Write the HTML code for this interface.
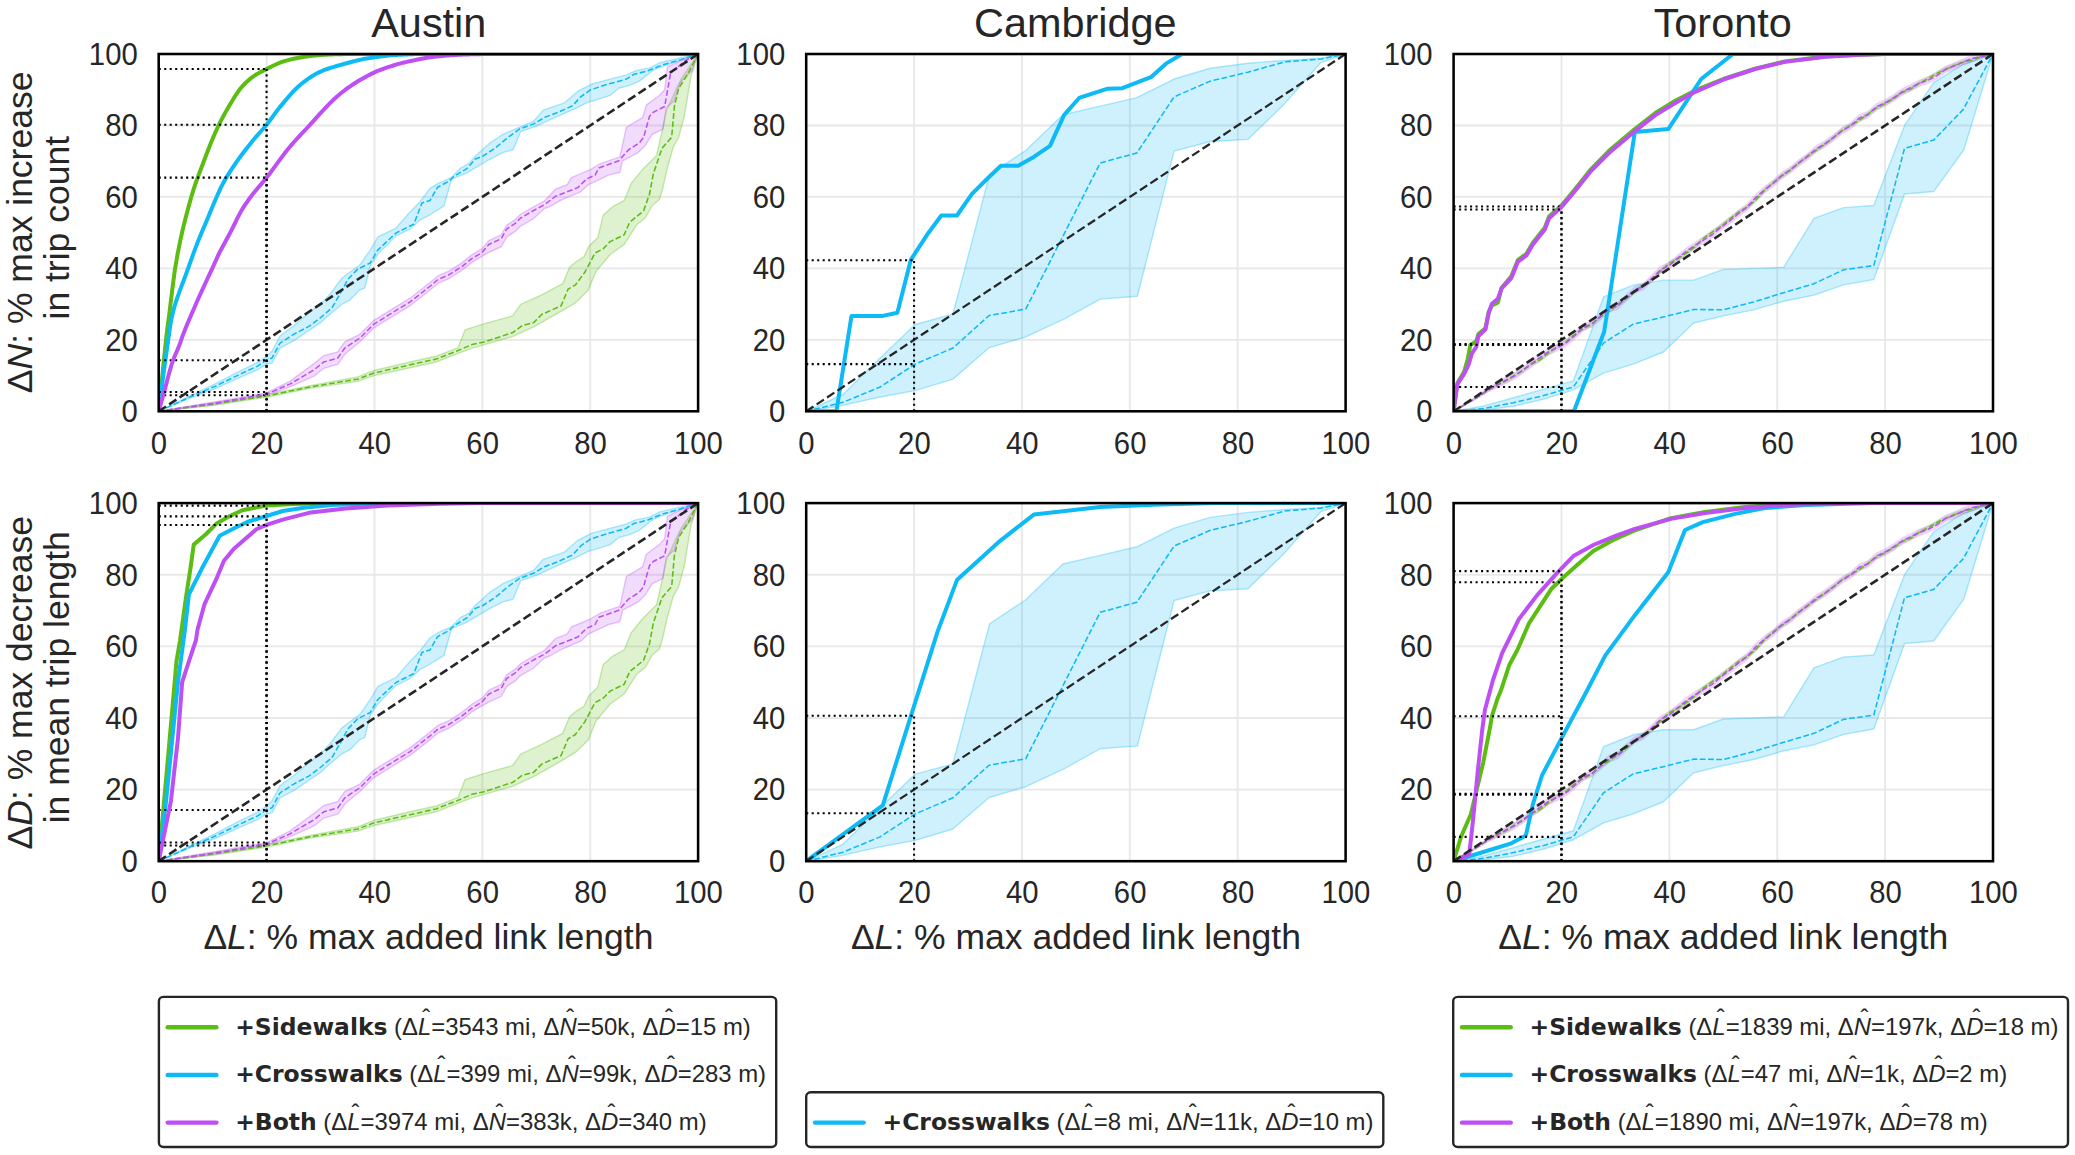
<!DOCTYPE html>
<html><head><meta charset="utf-8"><title>Network improvement curves</title>
<style>html,body{margin:0;padding:0;background:#fff}svg{display:block}text{font-family:"Liberation Sans",sans-serif;fill:#262626}.tk{font-size:30.5px}.lb{font-size:35.5px}.tt{font-size:41.4px}.lg{font-size:23.9px;font-kerning:none}.b{font-family:"DejaVu Sans",sans-serif;font-weight:bold;font-size:23.45px}.i{font-style:italic}</style></head><body>
<svg width="2075" height="1155" viewBox="0 0 2075 1155">
<rect width="2075" height="1155" fill="#fff"/>
<defs>
<clipPath id="c00"><rect x="158.7" y="54" width="539.4" height="357.3"/></clipPath>
<clipPath id="c01"><rect x="158.7" y="503.1" width="539.4" height="358.1"/></clipPath>
<clipPath id="c10"><rect x="806.2" y="54" width="539.4" height="357.3"/></clipPath>
<clipPath id="c11"><rect x="806.2" y="503.1" width="539.4" height="358.1"/></clipPath>
<clipPath id="c20"><rect x="1453.6" y="54" width="539.4" height="357.3"/></clipPath>
<clipPath id="c21"><rect x="1453.6" y="503.1" width="539.4" height="358.1"/></clipPath>
</defs>
<g clip-path="url(#c00)">
<line x1="266.58" y1="54" x2="266.58" y2="411.3" stroke="#e8e8e8" stroke-width="1.85"/>
<line x1="158.7" y1="339.84" x2="698.1" y2="339.84" stroke="#e8e8e8" stroke-width="1.85"/>
<line x1="374.46" y1="54" x2="374.46" y2="411.3" stroke="#e8e8e8" stroke-width="1.85"/>
<line x1="158.7" y1="268.38" x2="698.1" y2="268.38" stroke="#e8e8e8" stroke-width="1.85"/>
<line x1="482.34" y1="54" x2="482.34" y2="411.3" stroke="#e8e8e8" stroke-width="1.85"/>
<line x1="158.7" y1="196.92" x2="698.1" y2="196.92" stroke="#e8e8e8" stroke-width="1.85"/>
<line x1="590.22" y1="54" x2="590.22" y2="411.3" stroke="#e8e8e8" stroke-width="1.85"/>
<line x1="158.7" y1="125.46" x2="698.1" y2="125.46" stroke="#e8e8e8" stroke-width="1.85"/>
<polygon points="158.7,411.3 212.64,402.87 266.58,394.65 309.73,385.72 357.74,376.95 373.92,370.49 410.06,361.99 435.95,356.28 458.07,347.7 465.08,329.84 482.88,324.12 512.55,315.9 520.64,304.47 541.67,294.82 562.71,283.74 569.72,266.95 576.73,261.23 583.75,256.95 589.14,245.87 597.77,237.65 603.17,215.14 612.87,206.57 624.2,200.49 631.21,183.34 642.54,169.41 656.57,155.47 661.96,131.53 666.28,110.81 675.98,89.73 681.38,78.65 698.1,54 698.1,54 691.09,75.8 684.08,117.6 678.68,137.25 673.29,146.9 667.35,167.98 661.96,191.56 659.26,199.78 652.25,205.5 645.24,218 636.61,224.79 624.2,244.44 610.18,254.45 596.15,271.24 588.06,290.53 575.12,303.04 555.7,314.47 533.58,326.98 512.55,336.62 472.09,348.06 458.07,353.42 435.95,361.99 410.06,367.71 373.92,375.65 357.74,381.33 309.73,388.29 266.58,397.22 212.64,405.44 158.7,411.3" fill="#5bbd12" fill-opacity="0.2" stroke="#5bbd12" stroke-opacity="0.32" stroke-width="1.4" stroke-linejoin="round"/>
<polygon points="158.7,411.3 189.99,395.94 215.88,383.43 240.15,370.93 257.95,362.35 266.58,356.28 271.97,351.27 280.06,335.91 294.09,325.55 309.73,311.97 320.52,304.11 329.96,294.11 342.1,278.03 350.19,271.95 359.9,264.81 370.14,250.16 377.97,236.94 396.04,228.01 410.06,211.93 419.77,201.92 430.02,188.34 438.11,183.34 451.05,177.63 460.76,167.98 468.85,163.69 475.87,155.47 489.89,142.97 502.84,134.39 516.86,128.32 533.58,121.17 543.29,110.1 564.33,102.95 577.81,91.16 591.84,84.01 611.8,78.65 625.82,75.08 635.53,70.79 649.55,67.93 660.34,62.58 678.68,58.29 698.1,54 698.1,54 667.35,64.72 653.33,70.08 639.31,81.15 629.6,85.44 618.81,88.3 610.18,95.45 597.77,99.38 588.06,102.24 576.73,107.95 553,118.31 536.28,126.17 520.64,131.53 513.09,149.76 502.84,152.61 488.81,159.76 477.49,166.55 465.08,173.7 451.59,179.06 444.04,205.85 430.02,214.78 419.77,220.14 410.06,229.08 396.04,235.87 377.97,254.09 370.14,265.88 364.75,288.03 359.9,289.82 350.19,299.82 342.1,304.11 329.96,314.11 320.52,322.69 309.73,329.84 294.09,340.55 280.06,348.06 271.97,363.06 266.58,364.14 257.95,369.5 240.15,377.36 215.88,388.43 189.99,398.08 158.7,411.3" fill="#0dbaf5" fill-opacity="0.2" stroke="#0dbaf5" stroke-opacity="0.32" stroke-width="1.4" stroke-linejoin="round"/>
<polygon points="158.7,411.3 212.64,402.13 266.58,392.84 289.77,381.33 314.05,363.6 323.76,355.74 337.78,351.81 344.79,341.81 359.9,334.3 373.92,320.37 390.1,310.36 410.06,298.21 430.02,282.49 438.11,275.7 448.36,271.42 461.84,262.84 472.09,254.62 481.8,248.91 488.81,240.69 501.22,234.97 506.61,225.33 515.24,219.61 520.64,214.25 533.58,206.75 544.37,201.03 555.7,189.06 567.03,184.77 571.34,177.63 590.76,169.41 600.47,163.69 619.89,156.9 626.36,127.25 642.54,117.6 646.32,105.09 659.26,95.45 664.66,89.73 667.35,67.22 681.38,60.43 698.1,54 698.1,54 694.86,61.86 692.71,70.08 680.3,82.58 674.37,100.81 666.28,107.95 663.04,129.03 652.25,134.39 645.24,145.47 638.23,152.61 622.58,160.83 619.89,172.27 608.56,175.12 600.47,179.06 588.06,184.77 581.05,191.56 561.09,200.14 549.76,206.57 544.37,208.53 533.58,218.54 520.64,226.04 515.24,231.4 506.61,237.12 501.22,246.76 488.81,252.48 481.8,256.41 472.09,262.13 461.84,270.35 448.36,278.92 438.11,283.21 430.02,290 410.06,305.72 390.1,317.87 373.92,327.87 359.9,341.81 344.79,354.31 337.78,364.32 323.76,368.25 314.05,376.11 289.77,386.96 266.58,395.46 212.64,404.75 158.7,411.3" fill="#be4ff5" fill-opacity="0.2" stroke="#be4ff5" stroke-opacity="0.32" stroke-width="1.4" stroke-linejoin="round"/>
<polyline points="158.7,411.3 161.4,385.14 161.94,379.86 164.09,357.95 165.98,339.84 166.79,333.02 169.49,312.23 170.03,308.04 172.18,290.28 174.88,269.81 177.58,254.03 180.28,240.53 180.82,238.01 182.97,228.52 185.67,217.75 187.29,211.57 188.37,207.49 191.06,197.67 193.22,190.49 193.76,188.82 196.46,180.94 199.15,173.64 201.85,166.55 202.93,163.69 204.55,159.38 207.25,152.23 209.94,145.28 212.64,138.68 215.34,132.46 218.03,126.61 219.11,124.39 220.73,121.17 223.43,116.03 226.12,111.15 228.82,106.52 231.52,101.99 234.22,97.53 236.91,93.32 239.61,89.53 241.5,87.23 242.31,86.32 245,83.49 247.7,80.92 250.4,78.61 253.09,76.55 254.17,75.8 255.79,74.74 258.49,73.14 261.19,71.69 263.88,70.34 266.58,69.01 269.28,67.66 271.97,66.31 274.67,64.99 277.37,63.76 280.06,62.64 282.76,61.67 283.3,61.5 285.46,60.86 288.16,60.11 290.85,59.43 293.55,58.81 296.25,58.25 298.94,57.76 300.02,57.57 301.64,57.31 304.34,56.87 307.03,56.46 309.73,56.07 312.43,55.71 315.13,55.4 317.82,55.15 320.52,54.95 321.6,54.89 323.22,54.82 325.91,54.69 328.61,54.57 331.31,54.47 334,54.37 336.7,54.27 339.4,54.2 342.1,54.13 344.79,54.07 347.49,54.03 350.19,54.01 352.88,54 355.58,54 358.28,54 360.97,54 363.67,54 366.37,54 369.07,54 371.76,54 374.46,54 377.16,54 379.85,54 382.55,54 385.25,54 387.94,54 390.64,54 393.34,54 396.04,54 398.73,54 401.43,54 404.13,54 406.82,54 409.52,54 412.22,54 414.91,54 417.61,54 420.31,54 423.01,54 425.7,54 428.4,54 431.1,54 433.79,54 436.49,54 439.19,54 441.88,54 444.58,54 447.28,54 449.98,54 452.67,54 455.37,54 458.07,54 460.76,54 463.46,54 466.16,54 468.85,54 471.55,54 474.25,54 476.95,54 479.64,54 482.34,54 485.04,54 487.73,54 490.43,54 493.13,54 495.82,54 498.52,54 501.22,54 503.92,54 506.61,54 509.31,54 512.01,54 514.7,54 517.4,54 520.1,54 522.79,54 525.49,54 528.19,54 530.89,54 533.58,54 536.28,54 538.98,54 541.67,54 544.37,54 547.07,54 549.76,54 552.46,54 555.16,54 557.86,54 560.55,54 563.25,54 565.95,54 568.64,54 571.34,54 574.04,54 576.73,54 579.43,54 582.13,54 584.83,54 587.52,54 590.22,54 592.92,54 595.61,54 598.31,54 601.01,54 603.7,54 606.4,54 609.1,54 611.8,54 614.49,54 617.19,54 619.89,54 622.58,54 625.28,54 627.98,54 630.67,54 633.37,54 636.07,54 638.77,54 641.46,54 644.16,54 646.86,54 649.55,54 652.25,54 654.95,54 657.64,54 660.34,54 663.04,54 665.74,54 668.43,54 671.13,54 673.83,54 676.52,54 679.22,54 681.92,54 684.61,54 687.31,54 690.01,54 692.71,54 695.4,54 698.1,54" fill="none" stroke="#5bbd12" stroke-width="4.0" stroke-linecap="round" stroke-linejoin="round"/>
<polyline points="158.7,411.3 212.64,404.15 266.58,395.94 309.73,387 357.74,379.14 373.92,373.07 410.06,364.85 435.95,359.13 458.07,350.56 472.09,344.48 482.88,342.34 512.55,332.69 522.26,325.55 533.58,322.69 541.67,314.47 561.09,305.9 568.1,289.1 575.12,285.17 584.83,272.31 595.07,253.02 603.17,248.73 610.18,241.58 624.2,234.79 629.6,222.29 643.62,210.85 649.55,194.06 653.33,173.7 661.96,148.33 671.67,137.25 674.37,106.52 678.68,88.3 688.39,72.94 698.1,54" fill="none" stroke="#5bbd12" stroke-width="1.55" stroke-dasharray="5.74 2.48" stroke-linecap="butt" stroke-linejoin="round"/>
<polyline points="158.7,69.01 266.58,69.01" fill="none" stroke="#000" stroke-width="2.07" stroke-dasharray="2.07 3.42" stroke-linecap="butt" stroke-linejoin="round"/>
<polyline points="158.7,395.22 266.58,395.22" fill="none" stroke="#000" stroke-width="2.07" stroke-dasharray="2.07 3.42" stroke-linecap="butt" stroke-linejoin="round"/>
<polyline points="266.58,411.3 266.58,69.01" fill="none" stroke="#000" stroke-width="2.07" stroke-dasharray="2.07 3.42" stroke-linecap="butt" stroke-linejoin="round"/>
<polyline points="158.7,411.3 161.4,389.97 163.28,375.57 164.09,369.53 166.79,349.93 167.87,342.34 169.49,330.72 171.11,320.55 172.18,315.4 174.34,306.97 174.88,305.1 177.58,296.87 179.2,292.32 180.28,289.36 182.97,282.31 184.05,279.46 185.67,275.08 188.37,267.7 188.64,266.95 191.06,260.11 193.22,254.09 193.76,252.62 196.46,245.4 198.08,241.23 199.15,238.52 201.85,232 202.93,229.43 204.55,225.68 206.17,221.93 207.25,219.37 209.94,212.85 212.64,206.31 214.8,201.21 215.34,199.95 218.03,193.74 220.19,189.06 220.73,187.95 223.43,182.68 225.05,179.77 226.12,177.93 228.82,173.51 231.52,169.31 234.22,165.3 236.91,161.42 239.61,157.65 240.15,156.9 242.31,153.97 245,150.42 247.7,146.99 250.4,143.64 253.09,140.34 254.17,139.04 255.79,137.12 258.49,134.04 261.19,131.02 263.88,127.96 266.58,124.75 269.28,121.28 271.97,117.63 274.67,113.91 277.37,110.29 280.06,106.88 282.76,103.62 285.46,100.38 288.16,97.2 290.85,94.13 293.55,91.2 296.25,88.48 298.94,86 300.02,85.09 301.64,83.77 304.34,81.64 307.03,79.62 309.73,77.72 312.43,75.96 315.13,74.34 317.82,72.9 319.98,71.87 320.52,71.62 323.22,70.49 325.91,69.45 328.61,68.5 331.31,67.62 334,66.79 336.7,66 339.4,65.23 339.94,65.08 342.1,64.47 344.79,63.71 347.49,62.97 350.19,62.24 352.88,61.54 355.58,60.86 358.28,60.22 360.97,59.62 363.67,59.06 366.37,58.55 369.07,58.1 370.14,57.93 371.76,57.69 374.46,57.3 377.16,56.93 379.85,56.57 382.55,56.23 385.25,55.92 387.94,55.62 390.64,55.36 393.34,55.13 396.04,54.93 398.73,54.77 399.81,54.71 401.43,54.64 404.13,54.52 406.82,54.4 409.52,54.29 412.22,54.19 414.91,54.11 417.61,54.05 420.31,54.01 423.01,54 425.7,54 428.4,54 431.1,54 433.79,54 436.49,54 439.19,54 441.88,54 444.58,54 447.28,54 449.98,54 452.67,54 455.37,54 458.07,54 460.76,54 463.46,54 466.16,54 468.85,54 471.55,54 474.25,54 476.95,54 479.64,54 482.34,54 485.04,54 487.73,54 490.43,54 493.13,54 495.82,54 498.52,54 501.22,54 503.92,54 506.61,54 509.31,54 512.01,54 514.7,54 517.4,54 520.1,54 522.79,54 525.49,54 528.19,54 530.89,54 533.58,54 536.28,54 538.98,54 541.67,54 544.37,54 547.07,54 549.76,54 552.46,54 555.16,54 557.86,54 560.55,54 563.25,54 565.95,54 568.64,54 571.34,54 574.04,54 576.73,54 579.43,54 582.13,54 584.83,54 587.52,54 590.22,54 592.92,54 595.61,54 598.31,54 601.01,54 603.7,54 606.4,54 609.1,54 611.8,54 614.49,54 617.19,54 619.89,54 622.58,54 625.28,54 627.98,54 630.67,54 633.37,54 636.07,54 638.77,54 641.46,54 644.16,54 646.86,54 649.55,54 652.25,54 654.95,54 657.64,54 660.34,54 663.04,54 665.74,54 668.43,54 671.13,54 673.83,54 676.52,54 679.22,54 681.92,54 684.61,54 687.31,54 690.01,54 692.71,54 695.4,54 698.1,54" fill="none" stroke="#0dbaf5" stroke-width="4.0" stroke-linecap="round" stroke-linejoin="round"/>
<polyline points="158.7,411.3 189.99,397.01 215.88,385.93 240.15,374.14 257.95,365.92 266.58,359.85 271.97,358.06 280.06,343.06 294.09,334.12 309.73,325.91 319.98,318.04 331.85,308.04 339.94,294.11 348.03,279.1 357.74,269.09 370.14,263.02 377.7,250.16 396.04,233.01 413.84,224.07 421.93,202.99 430.02,200.49 437.57,187.27 448.9,181.2 453.75,176.55 467.24,168.34 475.33,159.05 482.88,156.19 495.82,147.61 508.23,137.25 519.56,129.03 534.12,123.67 544.91,117.24 558.4,112.24 572.42,105.81 581.05,96.52 590.76,89.73 608.56,84.01 625.82,79.37 633.91,74.37 647.94,70.79 661.96,65.08 678.68,60.43 698.1,54" fill="none" stroke="#0dbaf5" stroke-width="1.55" stroke-dasharray="5.74 2.48" stroke-linecap="butt" stroke-linejoin="round"/>
<polyline points="158.7,124.75 266.58,124.75" fill="none" stroke="#000" stroke-width="2.07" stroke-dasharray="2.07 3.42" stroke-linecap="butt" stroke-linejoin="round"/>
<polyline points="158.7,360.21 266.58,360.21" fill="none" stroke="#000" stroke-width="2.07" stroke-dasharray="2.07 3.42" stroke-linecap="butt" stroke-linejoin="round"/>
<polyline points="266.58,411.3 266.58,124.75" fill="none" stroke="#000" stroke-width="2.07" stroke-dasharray="2.07 3.42" stroke-linecap="butt" stroke-linejoin="round"/>
<polyline points="158.7,411.3 161.4,401.78 164.09,392.16 164.63,390.22 166.79,382.09 169.49,371.76 172.18,362.71 174.88,355.74 177.58,349.55 179.2,345.56 180.28,342.6 182.97,334.87 183.78,332.69 185.67,327.94 188.37,321.52 191.06,315.28 191.87,313.4 193.76,309.01 196.46,302.82 199.15,296.74 199.69,295.53 201.85,290.8 204.55,284.98 207.25,279.19 207.79,278.03 209.94,273.37 212.64,267.55 215.34,261.7 215.88,260.52 218.03,255.68 219.11,253.37 220.73,250.18 223.43,245.18 225.59,241.23 226.12,240.22 228.82,235.26 230.98,231.22 231.52,230.18 234.22,224.75 236.91,219.18 239.61,213.87 241.5,210.5 242.31,209.16 245,204.93 247.7,201.01 250.4,197.29 251.48,195.85 253.09,193.74 255.79,190.41 258.49,187.22 261.19,184.09 263.88,180.92 266.58,177.63 269.28,174.16 271.97,170.56 274.67,166.89 277.37,163.19 280.06,159.49 282.76,155.84 285.46,152.29 288.16,148.87 289.77,146.9 290.85,145.62 293.55,142.52 296.25,139.52 298.94,136.6 301.64,133.72 304.34,130.87 307.03,128 309.73,125.1 312.43,122.15 315.13,119.16 317.82,116.16 320.52,113.17 323.22,110.23 325.91,107.35 328.61,104.57 330.23,102.95 331.31,101.89 334,99.28 336.7,96.79 339.4,94.46 339.94,94.02 342.1,92.3 344.79,90.22 347.49,88.23 350.19,86.31 352.88,84.47 355.58,82.71 358.28,81.04 359.9,80.08 360.97,79.46 363.67,77.91 366.37,76.42 369.07,74.99 371.76,73.62 374.46,72.34 377.16,71.16 379.85,70.08 382.55,69.08 385.25,68.12 387.94,67.2 390.64,66.32 393.34,65.48 396.04,64.68 398.73,63.92 401.43,63.19 404.13,62.51 406.82,61.87 409.52,61.26 410.06,61.15 412.22,60.69 414.91,60.12 417.61,59.56 420.31,59.03 423.01,58.52 425.7,58.03 428.4,57.58 431.1,57.17 433.79,56.79 436.49,56.47 439.19,56.19 439.73,56.14 441.88,55.96 444.58,55.74 447.28,55.53 449.98,55.33 452.67,55.15 455.37,54.98 458.07,54.82 460.76,54.69 463.46,54.57 466.16,54.47 468.85,54.38 469.93,54.36 471.55,54.32 474.25,54.26 476.95,54.2 479.64,54.14 482.34,54.1 485.04,54.06 487.73,54.03 490.43,54.01 493.13,54 495.82,54 498.52,54 501.22,54 503.92,54 506.61,54 509.31,54 512.01,54 514.7,54 517.4,54 520.1,54 522.79,54 525.49,54 528.19,54 530.89,54 533.58,54 536.28,54 538.98,54 541.67,54 544.37,54 547.07,54 549.76,54 552.46,54 555.16,54 557.86,54 560.55,54 563.25,54 565.95,54 568.64,54 571.34,54 574.04,54 576.73,54 579.43,54 582.13,54 584.83,54 587.52,54 590.22,54 592.92,54 595.61,54 598.31,54 601.01,54 603.7,54 606.4,54 609.1,54 611.8,54 614.49,54 617.19,54 619.89,54 622.58,54 625.28,54 627.98,54 630.67,54 633.37,54 636.07,54 638.77,54 641.46,54 644.16,54 646.86,54 649.55,54 652.25,54 654.95,54 657.64,54 660.34,54 663.04,54 665.74,54 668.43,54 671.13,54 673.83,54 676.52,54 679.22,54 681.92,54 684.61,54 687.31,54 690.01,54 692.71,54 695.4,54 698.1,54" fill="none" stroke="#be4ff5" stroke-width="4.0" stroke-linecap="round" stroke-linejoin="round"/>
<polyline points="158.7,411.3 212.64,403.44 266.58,394.15 289.77,384.15 314.05,369.85 323.76,361.99 337.78,358.06 344.79,348.06 359.9,338.05 373.92,324.12 390.1,314.11 410.06,301.97 430.02,286.25 438.11,279.46 448.36,275.17 461.84,266.59 472.09,258.38 481.8,252.66 488.81,244.44 501.22,238.72 506.61,229.08 515.24,223.36 520.64,218 533.58,210.5 544.37,204.78 555.7,196.21 577.81,187.63 586.44,179.06 595.07,175.12 598.85,167.98 618.81,160.83 628.52,149.76 639.31,142.97 643.62,137.25 649.55,116.17 653.33,112.24 664.66,106.52 670.59,72.94 675.98,68.65 685.69,60.43 698.1,54" fill="none" stroke="#be4ff5" stroke-width="1.55" stroke-dasharray="5.74 2.48" stroke-linecap="butt" stroke-linejoin="round"/>
<polyline points="158.7,411.3 698.1,54" fill="none" stroke="#262626" stroke-width="2.6" stroke-dasharray="8.73 3.78" stroke-linecap="butt" stroke-linejoin="round"/>
<polyline points="158.7,177.63 266.58,177.63" fill="none" stroke="#000" stroke-width="2.07" stroke-dasharray="2.07 3.42" stroke-linecap="butt" stroke-linejoin="round"/>
<polyline points="158.7,392.01 266.58,392.01" fill="none" stroke="#000" stroke-width="2.07" stroke-dasharray="2.07 3.42" stroke-linecap="butt" stroke-linejoin="round"/>
<polyline points="266.58,411.3 266.58,177.63" fill="none" stroke="#000" stroke-width="2.07" stroke-dasharray="2.07 3.42" stroke-linecap="butt" stroke-linejoin="round"/>
</g>
<rect x="158.7" y="54" width="539.4" height="357.3" fill="none" stroke="#000" stroke-width="2.55"/>
<g clip-path="url(#c01)">
<line x1="266.58" y1="503.1" x2="266.58" y2="861.2" stroke="#e8e8e8" stroke-width="1.85"/>
<line x1="158.7" y1="789.58" x2="698.1" y2="789.58" stroke="#e8e8e8" stroke-width="1.85"/>
<line x1="374.46" y1="503.1" x2="374.46" y2="861.2" stroke="#e8e8e8" stroke-width="1.85"/>
<line x1="158.7" y1="717.96" x2="698.1" y2="717.96" stroke="#e8e8e8" stroke-width="1.85"/>
<line x1="482.34" y1="503.1" x2="482.34" y2="861.2" stroke="#e8e8e8" stroke-width="1.85"/>
<line x1="158.7" y1="646.34" x2="698.1" y2="646.34" stroke="#e8e8e8" stroke-width="1.85"/>
<line x1="590.22" y1="503.1" x2="590.22" y2="861.2" stroke="#e8e8e8" stroke-width="1.85"/>
<line x1="158.7" y1="574.72" x2="698.1" y2="574.72" stroke="#e8e8e8" stroke-width="1.85"/>
<polygon points="158.7,861.2 212.64,852.75 266.58,844.51 309.73,835.56 357.74,826.78 373.92,820.29 410.06,811.78 435.95,806.05 458.07,797.46 465.08,779.55 482.88,773.82 512.55,765.59 520.64,754.13 541.67,744.46 562.71,733.36 569.72,716.53 576.73,710.8 583.75,706.5 589.14,695.4 597.77,687.16 603.17,664.6 612.87,656.01 624.2,649.92 631.21,632.73 642.54,618.77 656.57,604.8 661.96,580.81 666.28,560.04 675.98,538.91 681.38,527.81 698.1,503.1 698.1,503.1 691.09,524.94 684.08,566.84 678.68,586.54 673.29,596.21 667.35,617.33 661.96,640.97 659.26,649.2 652.25,654.93 645.24,667.47 636.61,674.27 624.2,693.97 610.18,703.99 596.15,720.82 588.06,740.16 575.12,752.7 555.7,764.15 533.58,776.69 512.55,786.36 472.09,797.82 458.07,803.19 435.95,811.78 410.06,817.51 373.92,825.47 357.74,831.17 309.73,838.14 266.58,847.09 212.64,855.33 158.7,861.2" fill="#5bbd12" fill-opacity="0.2" stroke="#5bbd12" stroke-opacity="0.32" stroke-width="1.4" stroke-linejoin="round"/>
<polygon points="158.7,861.2 189.99,845.8 215.88,833.27 240.15,820.73 257.95,812.14 266.58,806.05 271.97,801.04 280.06,785.64 294.09,775.26 309.73,761.65 320.52,753.77 329.96,743.74 342.1,727.63 350.19,721.54 359.9,714.38 370.14,699.7 377.97,686.45 396.04,677.49 410.06,661.38 419.77,651.35 430.02,637.75 438.11,632.73 451.05,627 460.76,617.33 468.85,613.04 475.87,604.8 489.89,592.27 502.84,583.67 516.86,577.58 533.58,570.42 543.29,559.32 564.33,552.16 577.81,540.34 591.84,533.18 611.8,527.81 625.82,524.23 635.53,519.93 649.55,517.07 660.34,511.69 678.68,507.4 698.1,503.1 698.1,503.1 667.35,513.84 653.33,519.21 639.31,530.32 629.6,534.61 618.81,537.48 610.18,544.64 597.77,548.58 588.06,551.44 576.73,557.17 553,567.56 536.28,575.44 520.64,580.81 513.09,599.07 502.84,601.94 488.81,609.1 477.49,615.9 465.08,623.06 451.59,628.44 444.04,655.29 430.02,664.25 419.77,669.62 410.06,678.57 396.04,685.37 377.97,703.64 370.14,715.45 364.75,737.66 359.9,739.45 350.19,749.47 342.1,753.77 329.96,763.8 320.52,772.39 309.73,779.55 294.09,790.3 280.06,797.82 271.97,812.86 266.58,813.93 257.95,819.3 240.15,827.18 215.88,838.28 189.99,847.95 158.7,861.2" fill="#0dbaf5" fill-opacity="0.2" stroke="#0dbaf5" stroke-opacity="0.32" stroke-width="1.4" stroke-linejoin="round"/>
<polygon points="158.7,861.2 212.64,852.01 266.58,842.7 289.77,831.17 314.05,813.39 323.76,805.52 337.78,801.58 344.79,791.55 359.9,784.03 373.92,770.06 390.1,760.04 410.06,747.86 430.02,732.1 438.11,725.3 448.36,721 461.84,712.41 472.09,704.17 481.8,698.44 488.81,690.21 501.22,684.48 506.61,674.81 515.24,669.08 520.64,663.71 533.58,656.19 544.37,650.46 555.7,638.46 567.03,634.16 571.34,627 590.76,618.77 600.47,613.04 619.89,606.23 626.36,576.51 642.54,566.84 646.32,554.31 659.26,544.64 664.66,538.91 667.35,516.35 681.38,509.55 698.1,503.1 698.1,503.1 694.86,510.98 692.71,519.21 680.3,531.75 674.37,550.01 666.28,557.17 663.04,578.3 652.25,583.67 645.24,594.77 638.23,601.94 622.58,610.17 619.89,621.63 608.56,624.5 600.47,628.44 588.06,634.16 581.05,640.97 561.09,649.56 549.76,656.01 544.37,657.98 533.58,668.01 520.64,675.53 515.24,680.9 506.61,686.63 501.22,696.29 488.81,702.02 481.8,705.96 472.09,711.69 461.84,719.93 448.36,728.52 438.11,732.82 430.02,739.63 410.06,755.38 390.1,767.56 373.92,777.58 359.9,791.55 344.79,804.08 337.78,814.11 323.76,818.05 314.05,825.93 289.77,836.8 266.58,845.33 212.64,854.64 158.7,861.2" fill="#be4ff5" fill-opacity="0.2" stroke="#be4ff5" stroke-opacity="0.32" stroke-width="1.4" stroke-linejoin="round"/>
<polyline points="158.7,861.2 164.09,801.04 171,724.05 176.5,661.02 180.06,640.25 186.21,595.85 190.52,567.92 193.76,544.64 205.9,534.25 216.96,523.15 229.9,515.99 242.31,510.26 254.71,507.76 266.58,505.61 289.77,504.17 320.52,503.1 698.1,503.1" fill="none" stroke="#5bbd12" stroke-width="4.0" stroke-linecap="round" stroke-linejoin="round"/>
<polyline points="158.7,861.2 212.64,854.04 266.58,845.8 309.73,836.85 357.74,828.97 373.92,822.88 410.06,814.65 435.95,808.92 458.07,800.32 472.09,794.24 482.88,792.09 512.55,782.42 522.26,775.26 533.58,772.39 541.67,764.15 561.09,755.56 568.1,738.73 575.12,734.79 584.83,721.9 595.07,702.56 603.17,698.26 610.18,691.1 624.2,684.3 629.6,671.77 643.62,660.31 649.55,643.48 653.33,623.06 661.96,597.64 671.67,586.54 674.37,555.74 678.68,537.48 688.39,522.08 698.1,503.1" fill="none" stroke="#5bbd12" stroke-width="1.55" stroke-dasharray="5.74 2.48" stroke-linecap="butt" stroke-linejoin="round"/>
<polyline points="158.7,505.61 266.58,505.61" fill="none" stroke="#000" stroke-width="2.07" stroke-dasharray="2.07 3.42" stroke-linecap="butt" stroke-linejoin="round"/>
<polyline points="158.7,845.44 266.58,845.44" fill="none" stroke="#000" stroke-width="2.07" stroke-dasharray="2.07 3.42" stroke-linecap="butt" stroke-linejoin="round"/>
<polyline points="266.58,861.2 266.58,505.61" fill="none" stroke="#000" stroke-width="2.07" stroke-dasharray="2.07 3.42" stroke-linecap="butt" stroke-linejoin="round"/>
<polyline points="158.7,861.2 166.09,801.04 177.96,682.15 183.51,640.25 185.13,628.08 188.91,594.42 202.93,566.48 219.65,535.69 233.68,528.53 247.7,521.72 266.58,515.99 282.76,510.98 303.8,507.76 331.85,504.89 385.25,503.1 698.1,503.1" fill="none" stroke="#0dbaf5" stroke-width="4.0" stroke-linecap="round" stroke-linejoin="round"/>
<polyline points="158.7,861.2 189.99,846.88 215.88,835.77 240.15,823.96 257.95,815.72 266.58,809.63 271.97,807.84 280.06,792.8 294.09,783.85 309.73,775.61 319.98,767.74 331.85,757.71 339.94,743.74 348.03,728.7 357.74,718.68 370.14,712.59 377.7,699.7 396.04,682.51 413.84,673.56 421.93,652.43 430.02,649.92 437.57,636.67 448.9,630.58 453.75,625.93 467.24,617.69 475.33,608.38 482.88,605.52 495.82,596.92 508.23,586.54 519.56,578.3 534.12,572.93 544.91,566.48 558.4,561.47 572.42,555.02 581.05,545.71 590.76,538.91 608.56,533.18 625.82,528.53 633.91,523.51 647.94,519.93 661.96,514.2 678.68,509.55 698.1,503.1" fill="none" stroke="#0dbaf5" stroke-width="1.55" stroke-dasharray="5.74 2.48" stroke-linecap="butt" stroke-linejoin="round"/>
<polyline points="158.7,516.35 266.58,516.35" fill="none" stroke="#000" stroke-width="2.07" stroke-dasharray="2.07 3.42" stroke-linecap="butt" stroke-linejoin="round"/>
<polyline points="158.7,809.99 266.58,809.99" fill="none" stroke="#000" stroke-width="2.07" stroke-dasharray="2.07 3.42" stroke-linecap="butt" stroke-linejoin="round"/>
<polyline points="266.58,861.2 266.58,516.35" fill="none" stroke="#000" stroke-width="2.07" stroke-dasharray="2.07 3.42" stroke-linecap="butt" stroke-linejoin="round"/>
<polyline points="158.7,861.2 170.94,801.04 177.96,738.37 182.16,682.15 188.91,661.38 195.92,640.25 197.54,629.51 204.55,604.08 216.96,577.58 223.97,560.75 233.68,548.94 256.33,529.24 266.58,524.94 282.76,519.57 310.81,512.41 345.87,508.47 387.41,505.61 439.73,503.82 482.34,503.1 698.1,503.1" fill="none" stroke="#be4ff5" stroke-width="4.0" stroke-linecap="round" stroke-linejoin="round"/>
<polyline points="158.7,861.2 212.64,853.32 266.58,844.01 289.77,833.98 314.05,819.66 323.76,811.78 337.78,807.84 344.79,797.82 359.9,787.79 373.92,773.82 390.1,763.8 410.06,751.62 430.02,735.87 438.11,729.06 448.36,724.76 461.84,716.17 472.09,707.93 481.8,702.2 488.81,693.97 501.22,688.24 506.61,678.57 515.24,672.84 520.64,667.47 533.58,659.95 544.37,654.22 555.7,645.62 577.81,637.03 586.44,628.44 595.07,624.5 598.85,617.33 618.81,610.17 628.52,599.07 639.31,592.27 643.62,586.54 649.55,565.41 653.33,561.47 664.66,555.74 670.59,522.08 675.98,517.78 685.69,509.55 698.1,503.1" fill="none" stroke="#be4ff5" stroke-width="1.55" stroke-dasharray="5.74 2.48" stroke-linecap="butt" stroke-linejoin="round"/>
<polyline points="158.7,861.2 698.1,503.1" fill="none" stroke="#262626" stroke-width="2.6" stroke-dasharray="8.73 3.78" stroke-linecap="butt" stroke-linejoin="round"/>
<polyline points="158.7,524.94 266.58,524.94" fill="none" stroke="#000" stroke-width="2.07" stroke-dasharray="2.07 3.42" stroke-linecap="butt" stroke-linejoin="round"/>
<polyline points="158.7,842.58 266.58,842.58" fill="none" stroke="#000" stroke-width="2.07" stroke-dasharray="2.07 3.42" stroke-linecap="butt" stroke-linejoin="round"/>
<polyline points="266.58,861.2 266.58,524.94" fill="none" stroke="#000" stroke-width="2.07" stroke-dasharray="2.07 3.42" stroke-linecap="butt" stroke-linejoin="round"/>
</g>
<rect x="158.7" y="503.1" width="539.4" height="358.1" fill="none" stroke="#000" stroke-width="2.55"/>
<g clip-path="url(#c10)">
<line x1="914.08" y1="54" x2="914.08" y2="411.3" stroke="#e8e8e8" stroke-width="1.85"/>
<line x1="806.2" y1="339.84" x2="1345.6" y2="339.84" stroke="#e8e8e8" stroke-width="1.85"/>
<line x1="1021.96" y1="54" x2="1021.96" y2="411.3" stroke="#e8e8e8" stroke-width="1.85"/>
<line x1="806.2" y1="268.38" x2="1345.6" y2="268.38" stroke="#e8e8e8" stroke-width="1.85"/>
<line x1="1129.84" y1="54" x2="1129.84" y2="411.3" stroke="#e8e8e8" stroke-width="1.85"/>
<line x1="806.2" y1="196.92" x2="1345.6" y2="196.92" stroke="#e8e8e8" stroke-width="1.85"/>
<line x1="1237.72" y1="54" x2="1237.72" y2="411.3" stroke="#e8e8e8" stroke-width="1.85"/>
<line x1="806.2" y1="125.46" x2="1345.6" y2="125.46" stroke="#e8e8e8" stroke-width="1.85"/>
<polygon points="806.2,411.3 842.88,394.51 880.1,358.06 915.16,324.48 952.92,314.11 989.6,174.41 1025.74,150.47 1062.95,114.74 1100.17,106.17 1136.85,97.59 1174.07,79.01 1210.21,68.29 1247.97,63.29 1284.65,60.43 1320.79,58.29 1345.6,54 1345.6,54 1320.79,62.58 1284.65,103.66 1247.97,139.39 1210.21,141.54 1174.07,151.19 1137.39,296.25 1100.17,299.11 1064.03,319.12 1025.74,336.98 989.06,347.7 952.92,379.14 915.16,390.58 880.1,397.01 840.18,405.94 806.2,411.3" fill="#0dbaf5" fill-opacity="0.2" stroke="#0dbaf5" stroke-opacity="0.32" stroke-width="1.4" stroke-linejoin="round"/>
<polyline points="806.2,411.3 836.41,411.3 851.51,315.9 882.79,315.9 897.36,312.69 910.84,259.8 927.03,234.79 941.32,215.5 956.96,215.5 971.8,194.06 987.98,177.98 1000.92,165.83 1018.18,165.83 1033.83,156.9 1050.01,145.83 1064.03,115.1 1079.14,97.95 1107.72,88.66 1121.75,88.3 1150.88,77.22 1165.98,63.65 1182.16,54 1345.6,54" fill="none" stroke="#0dbaf5" stroke-width="4.0" stroke-linecap="round" stroke-linejoin="round"/>
<polyline points="806.2,411.3 842.88,402.37 880.1,387 915.16,364.14 952.92,348.06 989.06,315.54 1025.74,309.11 1062.95,236.22 1100.17,162.98 1136.85,152.97 1174.07,96.88 1210.21,81.15 1247.97,72.22 1284.65,61.86 1320.79,59 1345.6,54" fill="none" stroke="#0dbaf5" stroke-width="1.55" stroke-dasharray="5.74 2.48" stroke-linecap="butt" stroke-linejoin="round"/>
<polyline points="806.2,411.3 1345.6,54" fill="none" stroke="#262626" stroke-width="2.25" stroke-dasharray="8.73 3.78" stroke-linecap="butt" stroke-linejoin="round"/>
<polyline points="806.2,260.16 914.08,260.16" fill="none" stroke="#000" stroke-width="2.07" stroke-dasharray="2.07 3.42" stroke-linecap="butt" stroke-linejoin="round"/>
<polyline points="806.2,364.14 914.08,364.14" fill="none" stroke="#000" stroke-width="2.07" stroke-dasharray="2.07 3.42" stroke-linecap="butt" stroke-linejoin="round"/>
<polyline points="914.08,411.3 914.08,260.16" fill="none" stroke="#000" stroke-width="2.07" stroke-dasharray="2.07 3.42" stroke-linecap="butt" stroke-linejoin="round"/>
</g>
<rect x="806.2" y="54" width="539.4" height="357.3" fill="none" stroke="#000" stroke-width="2.55"/>
<g clip-path="url(#c11)">
<line x1="914.08" y1="503.1" x2="914.08" y2="861.2" stroke="#e8e8e8" stroke-width="1.85"/>
<line x1="806.2" y1="789.58" x2="1345.6" y2="789.58" stroke="#e8e8e8" stroke-width="1.85"/>
<line x1="1021.96" y1="503.1" x2="1021.96" y2="861.2" stroke="#e8e8e8" stroke-width="1.85"/>
<line x1="806.2" y1="717.96" x2="1345.6" y2="717.96" stroke="#e8e8e8" stroke-width="1.85"/>
<line x1="1129.84" y1="503.1" x2="1129.84" y2="861.2" stroke="#e8e8e8" stroke-width="1.85"/>
<line x1="806.2" y1="646.34" x2="1345.6" y2="646.34" stroke="#e8e8e8" stroke-width="1.85"/>
<line x1="1237.72" y1="503.1" x2="1237.72" y2="861.2" stroke="#e8e8e8" stroke-width="1.85"/>
<line x1="806.2" y1="574.72" x2="1345.6" y2="574.72" stroke="#e8e8e8" stroke-width="1.85"/>
<polygon points="806.2,861.2 842.88,844.37 880.1,807.84 915.16,774.18 952.92,763.8 989.6,623.78 1025.74,599.79 1062.95,563.98 1100.17,555.38 1136.85,546.79 1174.07,528.17 1210.21,517.42 1247.97,512.41 1284.65,509.55 1320.79,507.4 1345.6,503.1 1345.6,503.1 1320.79,511.69 1284.65,552.88 1247.97,588.69 1210.21,590.83 1174.07,600.5 1137.39,745.89 1100.17,748.76 1064.03,768.81 1025.74,786.72 989.06,797.46 952.92,828.97 915.16,840.43 880.1,846.88 840.18,855.83 806.2,861.2" fill="#0dbaf5" fill-opacity="0.2" stroke="#0dbaf5" stroke-opacity="0.32" stroke-width="1.4" stroke-linejoin="round"/>
<polyline points="806.2,861.2 882.79,805.34 910.84,716.17 937.81,630.94 956.96,580.09 999.84,541.06 1033.83,514.56 1100.17,507.04 1160.05,504.53 1216.14,503.1 1345.6,503.1" fill="none" stroke="#0dbaf5" stroke-width="4.0" stroke-linecap="round" stroke-linejoin="round"/>
<polyline points="806.2,861.2 842.88,852.25 880.1,836.85 915.16,813.93 952.92,797.82 989.06,765.23 1025.74,758.78 1062.95,685.73 1100.17,612.32 1136.85,602.29 1174.07,546.07 1210.21,530.32 1247.97,521.36 1284.65,510.98 1320.79,508.11 1345.6,503.1" fill="none" stroke="#0dbaf5" stroke-width="1.55" stroke-dasharray="5.74 2.48" stroke-linecap="butt" stroke-linejoin="round"/>
<polyline points="806.2,861.2 1345.6,503.1" fill="none" stroke="#262626" stroke-width="2.25" stroke-dasharray="8.73 3.78" stroke-linecap="butt" stroke-linejoin="round"/>
<polyline points="806.2,715.81 914.08,715.81" fill="none" stroke="#000" stroke-width="2.07" stroke-dasharray="2.07 3.42" stroke-linecap="butt" stroke-linejoin="round"/>
<polyline points="806.2,813.21 914.08,813.21" fill="none" stroke="#000" stroke-width="2.07" stroke-dasharray="2.07 3.42" stroke-linecap="butt" stroke-linejoin="round"/>
<polyline points="914.08,861.2 914.08,715.81" fill="none" stroke="#000" stroke-width="2.07" stroke-dasharray="2.07 3.42" stroke-linecap="butt" stroke-linejoin="round"/>
</g>
<rect x="806.2" y="503.1" width="539.4" height="358.1" fill="none" stroke="#000" stroke-width="2.55"/>
<g clip-path="url(#c20)">
<line x1="1561.48" y1="54" x2="1561.48" y2="411.3" stroke="#e8e8e8" stroke-width="1.85"/>
<line x1="1453.6" y1="339.84" x2="1993" y2="339.84" stroke="#e8e8e8" stroke-width="1.85"/>
<line x1="1669.36" y1="54" x2="1669.36" y2="411.3" stroke="#e8e8e8" stroke-width="1.85"/>
<line x1="1453.6" y1="268.38" x2="1993" y2="268.38" stroke="#e8e8e8" stroke-width="1.85"/>
<line x1="1777.24" y1="54" x2="1777.24" y2="411.3" stroke="#e8e8e8" stroke-width="1.85"/>
<line x1="1453.6" y1="196.92" x2="1993" y2="196.92" stroke="#e8e8e8" stroke-width="1.85"/>
<line x1="1885.12" y1="54" x2="1885.12" y2="411.3" stroke="#e8e8e8" stroke-width="1.85"/>
<line x1="1453.6" y1="125.46" x2="1993" y2="125.46" stroke="#e8e8e8" stroke-width="1.85"/>
<polygon points="1453.6,411.3 1462.23,405.77 1470.86,400.52 1479.49,394.91 1488.12,388.92 1496.75,383.32 1505.38,379.31 1514.01,373.72 1522.64,368.7 1531.27,362.11 1539.9,357.89 1548.53,350.98 1557.16,344.81 1565.8,340.14 1574.43,332.69 1583.06,326.79 1591.69,322.44 1600.32,314.55 1608.95,309.34 1617.58,302.63 1626.21,296.77 1634.84,289.16 1643.47,283.59 1652.1,277.41 1660.73,269.07 1669.36,261.23 1677.99,256.69 1686.62,250.9 1695.25,244.31 1703.88,236.28 1712.51,229.87 1721.14,224.56 1729.77,217.12 1738.4,210.47 1747.03,205.13 1755.66,198.25 1764.29,188.51 1772.92,180.87 1781.56,174.26 1790.19,168.14 1798.82,161 1807.45,154.25 1816.08,148.33 1824.71,142.21 1833.34,135.74 1841.97,128.51 1850.6,123.39 1859.23,118.32 1867.86,112.29 1876.49,105.95 1885.12,101.58 1893.75,96.43 1902.38,90.28 1911.01,86.93 1919.64,80.93 1928.27,76.59 1936.9,71.4 1945.53,67.35 1954.16,63.61 1962.79,60.35 1971.42,58.26 1980.05,55.78 1988.68,54.67 1988.68,55.45 1980.05,58.14 1971.42,62.19 1962.79,64.28 1954.16,67.54 1945.53,71.29 1936.9,75.33 1928.27,80.52 1919.64,84.86 1911.01,90.86 1902.38,94.21 1893.75,100.36 1885.12,105.51 1876.49,109.88 1867.86,116.22 1859.23,122.25 1850.6,127.32 1841.97,132.44 1833.34,139.67 1824.71,146.14 1816.08,152.26 1807.45,158.18 1798.82,164.93 1790.19,172.07 1781.56,178.19 1772.92,184.8 1764.29,192.44 1755.66,202.18 1747.03,209.06 1738.4,214.4 1729.77,221.05 1721.14,228.49 1712.51,233.8 1703.88,240.21 1695.25,248.24 1686.62,254.83 1677.99,260.62 1669.36,265.16 1660.73,273 1652.1,281.34 1643.47,287.52 1634.84,293.09 1626.21,300.7 1617.58,306.56 1608.95,313.27 1600.32,318.48 1591.69,326.37 1583.06,330.72 1574.43,336.62 1565.8,344.08 1557.16,348.74 1548.53,354.91 1539.9,361.83 1531.27,366.04 1522.64,372.63 1514.01,377.65 1505.38,383.09 1496.75,386.47 1488.12,391.44 1479.49,396.8 1470.86,401.78 1462.23,406.4 1453.6,411.3" fill="#5bbd12" fill-opacity="0.2" stroke="#5bbd12" stroke-opacity="0.12" stroke-width="1.4" stroke-linejoin="round"/>
<polygon points="1453.6,411.3 1483.81,405.94 1513.47,397.72 1543.68,389.15 1573.35,380.93 1603.55,296.96 1633.22,285.17 1663.43,280.17 1693.63,280.17 1723.3,269.45 1753.51,268.38 1783.71,267.31 1813.92,218.36 1843.59,207.64 1873.79,205.5 1904.54,125.46 1933.67,82.58 1962.25,64.72 1993,54 1993,54 1963.87,149.76 1933.67,191.56 1904.54,194.06 1873.79,279.46 1843.59,284.82 1813.92,295.18 1783.71,301.25 1753.51,309.83 1723.3,315.9 1693.63,323.05 1663.43,351.99 1633.22,364.14 1603.55,373.07 1573.35,389.86 1543.68,399.15 1513.47,406.3 1483.81,409.87 1453.6,411.3" fill="#0dbaf5" fill-opacity="0.2" stroke="#0dbaf5" stroke-opacity="0.32" stroke-width="1.4" stroke-linejoin="round"/>
<polygon points="1453.6,411.3 1462.23,405.52 1470.86,400.03 1479.49,394.04 1488.12,387.86 1496.75,382.92 1505.38,377.34 1514.01,373.02 1522.64,367 1531.27,360.68 1539.9,354.43 1548.53,348.39 1557.16,344.51 1565.8,339.89 1574.43,332.84 1583.06,324.22 1591.69,320.79 1600.32,313.67 1608.95,305.62 1617.58,302.98 1626.21,294.43 1634.84,286.76 1643.47,283.2 1652.1,274.86 1660.73,266.36 1669.36,262.32 1677.99,254.72 1686.62,247.77 1695.25,242.03 1703.88,236.56 1712.51,231.31 1721.14,223.9 1729.77,217.66 1738.4,210.42 1747.03,204.02 1755.66,194.36 1764.29,186.69 1772.92,180.54 1781.56,172.28 1790.19,166.89 1798.82,159.64 1807.45,153.47 1816.08,145.72 1824.71,140.8 1833.34,134.51 1841.97,127.55 1850.6,122.76 1859.23,114.77 1867.86,111.58 1876.49,103.6 1885.12,99.69 1893.75,94.51 1902.38,88.55 1911.01,84.26 1919.64,79.96 1928.27,76.85 1936.9,72.42 1945.53,66.07 1954.16,62.88 1962.79,58.95 1971.42,55.55 1980.05,54.96 1988.68,54.42 1988.68,55.7 1980.05,58.82 1971.42,61.98 1962.79,65.38 1954.16,69.31 1945.53,72.51 1936.9,78.86 1928.27,83.29 1919.64,86.39 1911.01,90.69 1902.38,94.98 1893.75,100.94 1885.12,106.12 1876.49,110.03 1867.86,118.01 1859.23,121.2 1850.6,129.19 1841.97,133.98 1833.34,140.94 1824.71,147.23 1816.08,152.15 1807.45,159.91 1798.82,166.07 1790.19,173.32 1781.56,178.71 1772.92,186.97 1764.29,193.12 1755.66,200.79 1747.03,210.45 1738.4,216.85 1729.77,224.09 1721.14,230.33 1712.51,237.74 1703.88,243 1695.25,248.46 1686.62,254.2 1677.99,261.16 1669.36,268.75 1660.73,272.79 1652.1,281.3 1643.47,289.63 1634.84,293.19 1626.21,300.86 1617.58,309.41 1608.95,312.05 1600.32,320.11 1591.69,327.22 1583.06,330.66 1574.43,339.27 1565.8,346.32 1557.16,350.94 1548.53,354.82 1539.9,360.86 1531.27,367.11 1522.64,373.43 1514.01,379.46 1505.38,383.51 1496.75,388.07 1488.12,391.98 1479.49,397.13 1470.86,402.09 1462.23,406.55 1453.6,411.3" fill="#be4ff5" fill-opacity="0.2" stroke="#be4ff5" stroke-opacity="0.15" stroke-width="1.4" stroke-linejoin="round"/>
<polyline points="1453.6,411.3 1456.3,389.86 1457.59,382.72 1464.01,372 1467.62,359.49 1470.32,344.84 1476.25,341.63 1478.41,334.12 1485.42,328.41 1488.66,311.97 1491.9,305.54 1497.83,302.68 1501.61,287.67 1511.32,276.24 1517.79,260.16 1526.42,253.73 1532.89,242.65 1544.76,227.65 1549.07,216.57 1561.48,205.5 1573.35,191.2 1591.15,169.05 1608.95,150.83 1634.84,129.03 1655.34,112.95 1675.29,100.81 1695.25,90.44 1724.92,78.3 1755.12,68.65 1784.79,61.5 1825.25,56.5 1859.77,54.71 1885.12,54 1993,54" fill="none" stroke="#5bbd12" stroke-width="4.0" stroke-linecap="round" stroke-linejoin="round"/>
<polyline points="1453.6,411.3 1462.23,406.08 1470.86,401.15 1479.49,395.85 1488.12,390.18 1496.75,384.89 1505.38,381.2 1514.01,375.69 1522.64,370.67 1531.27,364.08 1539.9,359.86 1548.53,352.94 1557.16,346.78 1565.8,342.11 1574.43,334.66 1583.06,328.76 1591.69,324.41 1600.32,316.51 1608.95,311.3 1617.58,304.6 1626.21,298.73 1634.84,291.13 1643.47,285.55 1652.1,279.37 1660.73,271.04 1669.36,263.19 1677.99,258.66 1686.62,252.87 1695.25,246.27 1703.88,238.25 1712.51,231.83 1721.14,226.52 1729.77,219.08 1738.4,212.43 1747.03,207.1 1755.66,200.22 1764.29,190.47 1772.92,182.84 1781.56,176.22 1790.19,170.11 1798.82,162.97 1807.45,156.21 1816.08,150.3 1824.71,144.17 1833.34,137.7 1841.97,130.47 1850.6,125.35 1859.23,120.28 1867.86,114.25 1876.49,107.91 1885.12,103.55 1893.75,98.39 1902.38,92.25 1911.01,88.89 1919.64,82.89 1928.27,78.55 1936.9,73.37 1945.53,69.32 1954.16,65.58 1962.79,62.32 1971.42,60.23 1980.05,56.96 1988.68,55.06" fill="none" stroke="#5bbd12" stroke-width="1.55" stroke-dasharray="5.74 2.48" stroke-linecap="butt" stroke-linejoin="round"/>
<polyline points="1453.6,206.57 1561.48,206.57" fill="none" stroke="#000" stroke-width="2.07" stroke-dasharray="2.07 3.42" stroke-linecap="butt" stroke-linejoin="round"/>
<polyline points="1453.6,344.13 1561.48,344.13" fill="none" stroke="#000" stroke-width="2.07" stroke-dasharray="2.07 3.42" stroke-linecap="butt" stroke-linejoin="round"/>
<polyline points="1561.48,411.3 1561.48,206.57" fill="none" stroke="#000" stroke-width="2.07" stroke-dasharray="2.07 3.42" stroke-linecap="butt" stroke-linejoin="round"/>
<polyline points="1453.6,411.3 1573.89,411.3 1604.09,331.98 1607.87,308.04 1634.84,131.89 1668.28,129.03 1701.18,79.01 1733.01,54 1993,54" fill="none" stroke="#0dbaf5" stroke-width="4.0" stroke-linecap="round" stroke-linejoin="round"/>
<polyline points="1453.6,411.3 1483.81,408.44 1513.47,402.72 1543.68,395.58 1573.35,387 1603.55,343.06 1633.22,324.12 1663.43,316.97 1693.63,309.47 1723.3,309.83 1753.51,301.97 1783.71,292.68 1813.92,283.74 1843.59,269.81 1873.79,265.52 1904.54,148.33 1933.67,140.11 1963.33,109.38 1993,54" fill="none" stroke="#0dbaf5" stroke-width="1.55" stroke-dasharray="5.74 2.48" stroke-linecap="butt" stroke-linejoin="round"/>
<polyline points="1453.6,411.26 1561.48,411.26" fill="none" stroke="#000" stroke-width="2.07" stroke-dasharray="2.07 3.42" stroke-linecap="butt" stroke-linejoin="round"/>
<polyline points="1453.6,387 1561.48,387" fill="none" stroke="#000" stroke-width="2.07" stroke-dasharray="2.07 3.42" stroke-linecap="butt" stroke-linejoin="round"/>
<polyline points="1561.48,411.3 1561.48,387" fill="none" stroke="#000" stroke-width="2.07" stroke-dasharray="2.07 3.42" stroke-linecap="butt" stroke-linejoin="round"/>
<polyline points="1453.6,411.3 1456.3,391.65 1457.59,383.79 1464.01,374.14 1468.7,364.49 1471.94,353.42 1476.25,346.99 1478.41,335.91 1485.42,329.48 1488.66,313.4 1491.9,303.75 1497.83,298.75 1501.61,288.39 1511.32,278.03 1517.79,261.95 1526.42,255.52 1532.89,244.44 1544.76,229.43 1549.07,218.36 1561.48,206.92 1573.35,192.99 1591.15,170.84 1608.95,152.97 1634.84,131.18 1655.34,115.1 1675.29,102.95 1695.25,91.87 1724.92,79.01 1755.12,69.01 1784.79,61.86 1825.25,56.86 1859.77,54.71 1885.12,54 1993,54" fill="none" stroke="#be4ff5" stroke-width="4.0" stroke-linecap="round" stroke-linejoin="round"/>
<polyline points="1453.6,411.3 1462.23,406.04 1470.86,401.06 1479.49,395.58 1488.12,389.92 1496.75,385.49 1505.38,380.43 1514.01,376.24 1522.64,370.22 1531.27,363.89 1539.9,357.64 1548.53,351.61 1557.16,347.73 1565.8,343.1 1574.43,336.06 1583.06,327.44 1591.69,324 1600.32,316.89 1608.95,308.83 1617.58,306.19 1626.21,297.64 1634.84,289.98 1643.47,286.42 1652.1,278.08 1660.73,269.57 1669.36,265.53 1677.99,257.94 1686.62,250.99 1695.25,245.25 1703.88,239.78 1712.51,234.52 1721.14,227.11 1729.77,220.88 1738.4,213.63 1747.03,207.23 1755.66,197.58 1764.29,189.91 1772.92,183.76 1781.56,175.49 1790.19,170.1 1798.82,162.85 1807.45,156.69 1816.08,148.94 1824.71,144.01 1833.34,137.73 1841.97,130.77 1850.6,125.97 1859.23,117.99 1867.86,114.79 1876.49,106.82 1885.12,102.9 1893.75,97.72 1902.38,91.76 1911.01,87.48 1919.64,83.17 1928.27,80.07 1936.9,75.64 1945.53,69.29 1954.16,66.09 1962.79,62.17 1971.42,58.76 1980.05,56.89 1988.68,55.06" fill="none" stroke="#be4ff5" stroke-width="1.55" stroke-dasharray="5.74 2.48" stroke-linecap="butt" stroke-linejoin="round"/>
<polyline points="1453.6,411.3 1993,54" fill="none" stroke="#262626" stroke-width="2.6" stroke-dasharray="8.73 3.78" stroke-linecap="butt" stroke-linejoin="round"/>
<polyline points="1453.6,209.43 1561.48,209.43" fill="none" stroke="#000" stroke-width="2.07" stroke-dasharray="2.07 3.42" stroke-linecap="butt" stroke-linejoin="round"/>
<polyline points="1453.6,344.84 1561.48,344.84" fill="none" stroke="#000" stroke-width="2.07" stroke-dasharray="2.07 3.42" stroke-linecap="butt" stroke-linejoin="round"/>
<polyline points="1561.48,411.3 1561.48,209.43" fill="none" stroke="#000" stroke-width="2.07" stroke-dasharray="2.07 3.42" stroke-linecap="butt" stroke-linejoin="round"/>
</g>
<rect x="1453.6" y="54" width="539.4" height="357.3" fill="none" stroke="#000" stroke-width="2.55"/>
<g clip-path="url(#c21)">
<line x1="1561.48" y1="503.1" x2="1561.48" y2="861.2" stroke="#e8e8e8" stroke-width="1.85"/>
<line x1="1453.6" y1="789.58" x2="1993" y2="789.58" stroke="#e8e8e8" stroke-width="1.85"/>
<line x1="1669.36" y1="503.1" x2="1669.36" y2="861.2" stroke="#e8e8e8" stroke-width="1.85"/>
<line x1="1453.6" y1="717.96" x2="1993" y2="717.96" stroke="#e8e8e8" stroke-width="1.85"/>
<line x1="1777.24" y1="503.1" x2="1777.24" y2="861.2" stroke="#e8e8e8" stroke-width="1.85"/>
<line x1="1453.6" y1="646.34" x2="1993" y2="646.34" stroke="#e8e8e8" stroke-width="1.85"/>
<line x1="1885.12" y1="503.1" x2="1885.12" y2="861.2" stroke="#e8e8e8" stroke-width="1.85"/>
<line x1="1453.6" y1="574.72" x2="1993" y2="574.72" stroke="#e8e8e8" stroke-width="1.85"/>
<polygon points="1453.6,861.2 1462.23,855.66 1470.86,850.4 1479.49,844.77 1488.12,838.77 1496.75,833.16 1505.38,829.14 1514.01,823.54 1522.64,818.51 1531.27,811.9 1539.9,807.68 1548.53,800.74 1557.16,794.56 1565.8,789.89 1574.43,782.42 1583.06,776.5 1591.69,772.14 1600.32,764.23 1608.95,759.01 1617.58,752.29 1626.21,746.41 1634.84,738.79 1643.47,733.2 1652.1,727.01 1660.73,718.65 1669.36,710.79 1677.99,706.24 1686.62,700.44 1695.25,693.83 1703.88,685.79 1712.51,679.36 1721.14,674.04 1729.77,666.58 1738.4,659.92 1747.03,654.57 1755.66,647.67 1764.29,637.91 1772.92,630.26 1781.56,623.63 1790.19,617.5 1798.82,610.34 1807.45,603.57 1816.08,597.64 1824.71,591.51 1833.34,585.02 1841.97,577.77 1850.6,572.64 1859.23,567.56 1867.86,561.52 1876.49,555.16 1885.12,550.79 1893.75,545.62 1902.38,539.46 1911.01,536.1 1919.64,530.09 1928.27,525.74 1936.9,520.54 1945.53,516.48 1954.16,512.73 1962.79,509.47 1971.42,507.37 1980.05,504.88 1988.68,503.77 1988.68,504.55 1980.05,507.25 1971.42,511.31 1962.79,513.41 1954.16,516.67 1945.53,520.42 1936.9,524.48 1928.27,529.68 1919.64,534.03 1911.01,540.04 1902.38,543.4 1893.75,549.56 1885.12,554.73 1876.49,559.1 1867.86,565.46 1859.23,571.5 1850.6,576.58 1841.97,581.71 1833.34,588.96 1824.71,595.44 1816.08,601.58 1807.45,607.51 1798.82,614.28 1790.19,621.44 1781.56,627.57 1772.92,634.2 1764.29,641.85 1755.66,651.61 1747.03,658.51 1738.4,663.85 1729.77,670.52 1721.14,677.98 1712.51,683.3 1703.88,689.73 1695.25,697.77 1686.62,704.38 1677.99,710.18 1669.36,714.73 1660.73,722.59 1652.1,730.95 1643.47,737.14 1634.84,742.73 1626.21,750.35 1617.58,756.23 1608.95,762.95 1600.32,768.17 1591.69,776.08 1583.06,780.44 1574.43,786.35 1565.8,793.82 1557.16,798.5 1548.53,804.68 1539.9,811.61 1531.27,815.84 1522.64,822.45 1514.01,827.48 1505.38,832.92 1496.75,836.31 1488.12,841.29 1479.49,846.66 1470.86,851.66 1462.23,856.29 1453.6,861.2" fill="#5bbd12" fill-opacity="0.2" stroke="#5bbd12" stroke-opacity="0.12" stroke-width="1.4" stroke-linejoin="round"/>
<polygon points="1453.6,861.2 1483.81,855.83 1513.47,847.59 1543.68,839 1573.35,830.76 1603.55,746.61 1633.22,734.79 1663.43,729.78 1693.63,729.78 1723.3,719.03 1753.51,717.96 1783.71,716.89 1813.92,667.83 1843.59,657.08 1873.79,654.93 1904.54,574.72 1933.67,531.75 1962.25,513.84 1993,503.1 1993,503.1 1963.87,599.07 1933.67,640.97 1904.54,643.48 1873.79,729.06 1843.59,734.43 1813.92,744.82 1783.71,750.91 1753.51,759.5 1723.3,765.59 1693.63,772.75 1663.43,801.76 1633.22,813.93 1603.55,822.88 1573.35,839.71 1543.68,849.02 1513.47,856.19 1483.81,859.77 1453.6,861.2" fill="#0dbaf5" fill-opacity="0.2" stroke="#0dbaf5" stroke-opacity="0.32" stroke-width="1.4" stroke-linejoin="round"/>
<polygon points="1453.6,861.2 1462.23,855.41 1470.86,849.91 1479.49,843.9 1488.12,837.71 1496.75,832.76 1505.38,827.16 1514.01,822.84 1522.64,816.8 1531.27,810.46 1539.9,804.2 1548.53,798.15 1557.16,794.26 1565.8,789.63 1574.43,782.56 1583.06,773.93 1591.69,770.48 1600.32,763.36 1608.95,755.28 1617.58,752.63 1626.21,744.06 1634.84,736.38 1643.47,732.82 1652.1,724.46 1660.73,715.93 1669.36,711.88 1677.99,704.27 1686.62,697.31 1695.25,691.55 1703.88,686.07 1712.51,680.81 1721.14,673.38 1729.77,667.13 1738.4,659.87 1747.03,653.45 1755.66,643.78 1764.29,636.09 1772.92,629.92 1781.56,621.64 1790.19,616.24 1798.82,608.97 1807.45,602.8 1816.08,595.03 1824.71,590.09 1833.34,583.79 1841.97,576.82 1850.6,572.01 1859.23,564.01 1867.86,560.81 1876.49,552.81 1885.12,548.89 1893.75,543.7 1902.38,537.73 1911.01,533.43 1919.64,529.12 1928.27,526.01 1936.9,521.56 1945.53,515.2 1954.16,512 1962.79,508.06 1971.42,504.65 1980.05,504.06 1988.68,503.52 1988.68,504.81 1980.05,507.93 1971.42,511.1 1962.79,514.51 1954.16,518.44 1945.53,521.65 1936.9,528.01 1928.27,532.45 1919.64,535.56 1911.01,539.87 1902.38,544.17 1893.75,550.14 1885.12,555.34 1876.49,559.26 1867.86,567.25 1859.23,570.45 1850.6,578.46 1841.97,583.26 1833.34,590.24 1824.71,596.54 1816.08,601.47 1807.45,609.24 1798.82,615.42 1790.19,622.69 1781.56,628.09 1772.92,636.37 1764.29,642.54 1755.66,650.22 1747.03,659.9 1738.4,666.31 1729.77,673.58 1721.14,679.82 1712.51,687.25 1703.88,692.52 1695.25,698 1686.62,703.75 1677.99,710.72 1669.36,718.33 1660.73,722.38 1652.1,730.9 1643.47,739.26 1634.84,742.83 1626.21,750.51 1617.58,759.08 1608.95,761.73 1600.32,769.8 1591.69,776.93 1583.06,780.37 1574.43,789.01 1565.8,796.07 1557.16,800.71 1548.53,804.6 1539.9,810.65 1531.27,816.91 1522.64,823.25 1514.01,829.28 1505.38,833.35 1496.75,837.91 1488.12,841.83 1479.49,847 1470.86,851.97 1462.23,856.44 1453.6,861.2" fill="#be4ff5" fill-opacity="0.2" stroke="#be4ff5" stroke-opacity="0.15" stroke-width="1.4" stroke-linejoin="round"/>
<polyline points="1453.6,861.2 1461.15,836.49 1470.86,814.29 1483.27,762.36 1490.28,726.2 1491.9,716.17 1497.29,699.34 1501.07,690.03 1509.16,665.32 1517.25,650.28 1529.12,623.06 1551.23,589.04 1561.48,579.02 1577.12,565.05 1593.3,551.09 1613.26,539.98 1634.84,530.32 1670.98,518.14 1704.96,512.05 1744.88,507.04 1784.79,504.17 1831.18,503.1 1993,503.1" fill="none" stroke="#5bbd12" stroke-width="4.0" stroke-linecap="round" stroke-linejoin="round"/>
<polyline points="1453.6,861.2 1462.23,855.97 1470.86,851.03 1479.49,845.72 1488.12,840.03 1496.75,834.74 1505.38,831.03 1514.01,825.51 1522.64,820.48 1531.27,813.87 1539.9,809.64 1548.53,802.71 1557.16,796.53 1565.8,791.86 1574.43,784.39 1583.06,778.47 1591.69,774.11 1600.32,766.2 1608.95,760.98 1617.58,754.26 1626.21,748.38 1634.84,740.76 1643.47,735.17 1652.1,728.98 1660.73,720.62 1669.36,712.76 1677.99,708.21 1686.62,702.41 1695.25,695.8 1703.88,687.76 1712.51,681.33 1721.14,676.01 1729.77,668.55 1738.4,661.89 1747.03,656.54 1755.66,649.64 1764.29,639.88 1772.92,632.23 1781.56,625.6 1790.19,619.47 1798.82,612.31 1807.45,605.54 1816.08,599.61 1824.71,593.48 1833.34,586.99 1841.97,579.74 1850.6,574.61 1859.23,569.53 1867.86,563.49 1876.49,557.13 1885.12,552.76 1893.75,547.59 1902.38,541.43 1911.01,538.07 1919.64,532.06 1928.27,527.71 1936.9,522.51 1945.53,518.45 1954.16,514.7 1962.79,511.44 1971.42,509.34 1980.05,506.07 1988.68,504.16" fill="none" stroke="#5bbd12" stroke-width="1.55" stroke-dasharray="5.74 2.48" stroke-linecap="butt" stroke-linejoin="round"/>
<polyline points="1453.6,582.24 1561.48,582.24" fill="none" stroke="#000" stroke-width="2.07" stroke-dasharray="2.07 3.42" stroke-linecap="butt" stroke-linejoin="round"/>
<polyline points="1453.6,793.88 1561.48,793.88" fill="none" stroke="#000" stroke-width="2.07" stroke-dasharray="2.07 3.42" stroke-linecap="butt" stroke-linejoin="round"/>
<polyline points="1561.48,861.2 1561.48,582.24" fill="none" stroke="#000" stroke-width="2.07" stroke-dasharray="2.07 3.42" stroke-linecap="butt" stroke-linejoin="round"/>
<polyline points="1453.6,861.2 1484.89,851.53 1511.32,843.3 1525.88,835.42 1532.89,804.26 1542.06,775.26 1561.48,738.37 1585.21,693.97 1605.17,655.65 1634.84,615.19 1668.28,572.21 1685,529.96 1702.8,522.08 1735.17,513.84 1764.83,508.11 1805.29,504.89 1874.33,503.1 1993,503.1" fill="none" stroke="#0dbaf5" stroke-width="4.0" stroke-linecap="round" stroke-linejoin="round"/>
<polyline points="1453.6,861.2 1483.81,858.34 1513.47,852.61 1543.68,845.44 1573.35,836.85 1603.55,792.8 1633.22,773.82 1663.43,766.66 1693.63,759.14 1723.3,759.5 1753.51,751.62 1783.71,742.31 1813.92,733.36 1843.59,719.39 1873.79,715.1 1904.54,597.64 1933.67,589.4 1963.33,558.61 1993,503.1" fill="none" stroke="#0dbaf5" stroke-width="1.55" stroke-dasharray="5.74 2.48" stroke-linecap="butt" stroke-linejoin="round"/>
<polyline points="1453.6,716.17 1561.48,716.17" fill="none" stroke="#000" stroke-width="2.07" stroke-dasharray="2.07 3.42" stroke-linecap="butt" stroke-linejoin="round"/>
<polyline points="1453.6,836.85 1561.48,836.85" fill="none" stroke="#000" stroke-width="2.07" stroke-dasharray="2.07 3.42" stroke-linecap="butt" stroke-linejoin="round"/>
<polyline points="1561.48,861.2 1561.48,716.17" fill="none" stroke="#000" stroke-width="2.07" stroke-dasharray="2.07 3.42" stroke-linecap="butt" stroke-linejoin="round"/>
<polyline points="1453.6,861.2 1469.24,854.4 1473.02,820.38 1477.87,770.24 1482.19,730.14 1484.89,710.08 1492.98,680 1502.15,653.14 1518.87,619.12 1537.21,595.13 1557.16,572.93 1573.35,556.1 1593.3,545 1614.88,536.05 1634.84,528.88 1670.98,518.86 1704.96,513.13 1744.88,508.11 1784.79,504.89 1841.97,503.1 1993,503.1" fill="none" stroke="#be4ff5" stroke-width="4.0" stroke-linecap="round" stroke-linejoin="round"/>
<polyline points="1453.6,861.2 1462.23,855.93 1470.86,850.94 1479.49,845.45 1488.12,839.77 1496.75,835.34 1505.38,830.26 1514.01,826.06 1522.64,820.02 1531.27,813.69 1539.9,807.42 1548.53,801.38 1557.16,797.48 1565.8,792.85 1574.43,785.79 1583.06,777.15 1591.69,773.71 1600.32,766.58 1608.95,758.5 1617.58,755.86 1626.21,747.29 1634.84,739.61 1643.47,736.04 1652.1,727.68 1660.73,719.16 1669.36,715.11 1677.99,707.5 1686.62,700.53 1695.25,694.78 1703.88,689.3 1712.51,684.03 1721.14,676.6 1729.77,670.35 1738.4,663.09 1747.03,656.68 1755.66,647 1764.29,639.31 1772.92,633.15 1781.56,624.86 1790.19,619.46 1798.82,612.2 1807.45,606.02 1816.08,598.25 1824.71,593.31 1833.34,587.02 1841.97,580.04 1850.6,575.23 1859.23,567.23 1867.86,564.03 1876.49,556.04 1885.12,552.11 1893.75,546.92 1902.38,540.95 1911.01,536.65 1919.64,532.34 1928.27,529.23 1936.9,524.79 1945.53,518.42 1954.16,515.22 1962.79,511.29 1971.42,507.87 1980.05,505.99 1988.68,504.16" fill="none" stroke="#be4ff5" stroke-width="1.55" stroke-dasharray="5.74 2.48" stroke-linecap="butt" stroke-linejoin="round"/>
<polyline points="1453.6,861.2 1993,503.1" fill="none" stroke="#262626" stroke-width="2.6" stroke-dasharray="8.73 3.78" stroke-linecap="butt" stroke-linejoin="round"/>
<polyline points="1453.6,571.14 1561.48,571.14" fill="none" stroke="#000" stroke-width="2.07" stroke-dasharray="2.07 3.42" stroke-linecap="butt" stroke-linejoin="round"/>
<polyline points="1453.6,794.59 1561.48,794.59" fill="none" stroke="#000" stroke-width="2.07" stroke-dasharray="2.07 3.42" stroke-linecap="butt" stroke-linejoin="round"/>
<polyline points="1561.48,861.2 1561.48,571.14" fill="none" stroke="#000" stroke-width="2.07" stroke-dasharray="2.07 3.42" stroke-linecap="butt" stroke-linejoin="round"/>
</g>
<rect x="1453.6" y="503.1" width="539.4" height="358.1" fill="none" stroke="#000" stroke-width="2.55"/>
<text class="tk" transform="translate(159,454.1) scale(0.96,1)" text-anchor="middle">0</text>
<text class="tk" transform="translate(137.7,422.2) scale(0.96,1)" text-anchor="end">0</text>
<text class="tk" transform="translate(266.88,454.1) scale(0.96,1)" text-anchor="middle">20</text>
<text class="tk" transform="translate(137.7,350.74) scale(0.96,1)" text-anchor="end">20</text>
<text class="tk" transform="translate(374.76,454.1) scale(0.96,1)" text-anchor="middle">40</text>
<text class="tk" transform="translate(137.7,279.28) scale(0.96,1)" text-anchor="end">40</text>
<text class="tk" transform="translate(482.64,454.1) scale(0.96,1)" text-anchor="middle">60</text>
<text class="tk" transform="translate(137.7,207.82) scale(0.96,1)" text-anchor="end">60</text>
<text class="tk" transform="translate(590.52,454.1) scale(0.96,1)" text-anchor="middle">80</text>
<text class="tk" transform="translate(137.7,136.36) scale(0.96,1)" text-anchor="end">80</text>
<text class="tk" transform="translate(698.4,454.1) scale(0.96,1)" text-anchor="middle">100</text>
<text class="tk" transform="translate(137.7,64.9) scale(0.96,1)" text-anchor="end">100</text>
<text class="tk" transform="translate(159,903.2) scale(0.96,1)" text-anchor="middle">0</text>
<text class="tk" transform="translate(137.7,872.1) scale(0.96,1)" text-anchor="end">0</text>
<text class="tk" transform="translate(266.88,903.2) scale(0.96,1)" text-anchor="middle">20</text>
<text class="tk" transform="translate(137.7,800.48) scale(0.96,1)" text-anchor="end">20</text>
<text class="tk" transform="translate(374.76,903.2) scale(0.96,1)" text-anchor="middle">40</text>
<text class="tk" transform="translate(137.7,728.86) scale(0.96,1)" text-anchor="end">40</text>
<text class="tk" transform="translate(482.64,903.2) scale(0.96,1)" text-anchor="middle">60</text>
<text class="tk" transform="translate(137.7,657.24) scale(0.96,1)" text-anchor="end">60</text>
<text class="tk" transform="translate(590.52,903.2) scale(0.96,1)" text-anchor="middle">80</text>
<text class="tk" transform="translate(137.7,585.62) scale(0.96,1)" text-anchor="end">80</text>
<text class="tk" transform="translate(698.4,903.2) scale(0.96,1)" text-anchor="middle">100</text>
<text class="tk" transform="translate(137.7,514) scale(0.96,1)" text-anchor="end">100</text>
<text class="tk" transform="translate(806.5,454.1) scale(0.96,1)" text-anchor="middle">0</text>
<text class="tk" transform="translate(785.2,422.2) scale(0.96,1)" text-anchor="end">0</text>
<text class="tk" transform="translate(914.38,454.1) scale(0.96,1)" text-anchor="middle">20</text>
<text class="tk" transform="translate(785.2,350.74) scale(0.96,1)" text-anchor="end">20</text>
<text class="tk" transform="translate(1022.26,454.1) scale(0.96,1)" text-anchor="middle">40</text>
<text class="tk" transform="translate(785.2,279.28) scale(0.96,1)" text-anchor="end">40</text>
<text class="tk" transform="translate(1130.14,454.1) scale(0.96,1)" text-anchor="middle">60</text>
<text class="tk" transform="translate(785.2,207.82) scale(0.96,1)" text-anchor="end">60</text>
<text class="tk" transform="translate(1238.02,454.1) scale(0.96,1)" text-anchor="middle">80</text>
<text class="tk" transform="translate(785.2,136.36) scale(0.96,1)" text-anchor="end">80</text>
<text class="tk" transform="translate(1345.9,454.1) scale(0.96,1)" text-anchor="middle">100</text>
<text class="tk" transform="translate(785.2,64.9) scale(0.96,1)" text-anchor="end">100</text>
<text class="tk" transform="translate(806.5,903.2) scale(0.96,1)" text-anchor="middle">0</text>
<text class="tk" transform="translate(785.2,872.1) scale(0.96,1)" text-anchor="end">0</text>
<text class="tk" transform="translate(914.38,903.2) scale(0.96,1)" text-anchor="middle">20</text>
<text class="tk" transform="translate(785.2,800.48) scale(0.96,1)" text-anchor="end">20</text>
<text class="tk" transform="translate(1022.26,903.2) scale(0.96,1)" text-anchor="middle">40</text>
<text class="tk" transform="translate(785.2,728.86) scale(0.96,1)" text-anchor="end">40</text>
<text class="tk" transform="translate(1130.14,903.2) scale(0.96,1)" text-anchor="middle">60</text>
<text class="tk" transform="translate(785.2,657.24) scale(0.96,1)" text-anchor="end">60</text>
<text class="tk" transform="translate(1238.02,903.2) scale(0.96,1)" text-anchor="middle">80</text>
<text class="tk" transform="translate(785.2,585.62) scale(0.96,1)" text-anchor="end">80</text>
<text class="tk" transform="translate(1345.9,903.2) scale(0.96,1)" text-anchor="middle">100</text>
<text class="tk" transform="translate(785.2,514) scale(0.96,1)" text-anchor="end">100</text>
<text class="tk" transform="translate(1453.9,454.1) scale(0.96,1)" text-anchor="middle">0</text>
<text class="tk" transform="translate(1432.6,422.2) scale(0.96,1)" text-anchor="end">0</text>
<text class="tk" transform="translate(1561.78,454.1) scale(0.96,1)" text-anchor="middle">20</text>
<text class="tk" transform="translate(1432.6,350.74) scale(0.96,1)" text-anchor="end">20</text>
<text class="tk" transform="translate(1669.66,454.1) scale(0.96,1)" text-anchor="middle">40</text>
<text class="tk" transform="translate(1432.6,279.28) scale(0.96,1)" text-anchor="end">40</text>
<text class="tk" transform="translate(1777.54,454.1) scale(0.96,1)" text-anchor="middle">60</text>
<text class="tk" transform="translate(1432.6,207.82) scale(0.96,1)" text-anchor="end">60</text>
<text class="tk" transform="translate(1885.42,454.1) scale(0.96,1)" text-anchor="middle">80</text>
<text class="tk" transform="translate(1432.6,136.36) scale(0.96,1)" text-anchor="end">80</text>
<text class="tk" transform="translate(1993.3,454.1) scale(0.96,1)" text-anchor="middle">100</text>
<text class="tk" transform="translate(1432.6,64.9) scale(0.96,1)" text-anchor="end">100</text>
<text class="tk" transform="translate(1453.9,903.2) scale(0.96,1)" text-anchor="middle">0</text>
<text class="tk" transform="translate(1432.6,872.1) scale(0.96,1)" text-anchor="end">0</text>
<text class="tk" transform="translate(1561.78,903.2) scale(0.96,1)" text-anchor="middle">20</text>
<text class="tk" transform="translate(1432.6,800.48) scale(0.96,1)" text-anchor="end">20</text>
<text class="tk" transform="translate(1669.66,903.2) scale(0.96,1)" text-anchor="middle">40</text>
<text class="tk" transform="translate(1432.6,728.86) scale(0.96,1)" text-anchor="end">40</text>
<text class="tk" transform="translate(1777.54,903.2) scale(0.96,1)" text-anchor="middle">60</text>
<text class="tk" transform="translate(1432.6,657.24) scale(0.96,1)" text-anchor="end">60</text>
<text class="tk" transform="translate(1885.42,903.2) scale(0.96,1)" text-anchor="middle">80</text>
<text class="tk" transform="translate(1432.6,585.62) scale(0.96,1)" text-anchor="end">80</text>
<text class="tk" transform="translate(1993.3,903.2) scale(0.96,1)" text-anchor="middle">100</text>
<text class="tk" transform="translate(1432.6,514) scale(0.96,1)" text-anchor="end">100</text>
<text class="tt" x="428.8" y="36.9" text-anchor="middle">Austin</text>
<text class="tt" x="1075.3" y="36.9" text-anchor="middle">Cambridge</text>
<text class="tt" x="1722.7" y="36.9" text-anchor="middle">Toronto</text>
<text class="lb" x="428.4" y="949.2" text-anchor="middle">Δ<tspan class="i">L</tspan>: % max added link length</text>
<text class="lb" x="1075.9" y="949.2" text-anchor="middle">Δ<tspan class="i">L</tspan>: % max added link length</text>
<text class="lb" x="1723.3" y="949.2" text-anchor="middle">Δ<tspan class="i">L</tspan>: % max added link length</text>
<text class="lb" transform="translate(31.6,393.2) rotate(-90)">Δ<tspan class="i">N</tspan>: % max increase</text>
<text class="lb" transform="translate(68.9,319.5) rotate(-90)">in trip count</text>
<text class="lb" transform="translate(31.6,849.4) rotate(-90)">Δ<tspan class="i">D</tspan>: % max decrease</text>
<text class="lb" transform="translate(68.9,823.3) rotate(-90)">in mean trip length</text>
<rect x="158.9" y="996.9" width="617.3" height="150.1" rx="4.5" ry="4.5" fill="#fff" stroke="#262626" stroke-width="2.4"/>
<line x1="167.7" y1="1027.3" x2="216.4" y2="1027.3" stroke="#5bbd12" stroke-width="4.4" stroke-linecap="round"/>
<text class="lg" x="235.2" y="1034.6" xml:space="preserve"><tspan class="b">+Sidewalks</tspan> (Δ<tspan class="i">L</tspan><tspan dx="-9.0" dy="-9.0">ˆ</tspan><tspan dx="1.04" dy="9.0">=3543 mi, </tspan>Δ<tspan class="i">N</tspan><tspan dx="-10.6" dy="-9.0">ˆ</tspan><tspan dx="2.64" dy="9.0">=50k, </tspan>Δ<tspan class="i">D</tspan><tspan dx="-10.8" dy="-9.0">ˆ</tspan><tspan dx="2.84" dy="9.0">=15 m)</tspan></text>
<line x1="167.7" y1="1074.95" x2="216.4" y2="1074.95" stroke="#0dbaf5" stroke-width="4.4" stroke-linecap="round"/>
<text class="lg" x="235.2" y="1082.25" xml:space="preserve"><tspan class="b">+Crosswalks</tspan> (Δ<tspan class="i">L</tspan><tspan dx="-9.0" dy="-9.0">ˆ</tspan><tspan dx="1.04" dy="9.0">=399 mi, </tspan>Δ<tspan class="i">N</tspan><tspan dx="-10.6" dy="-9.0">ˆ</tspan><tspan dx="2.64" dy="9.0">=99k, </tspan>Δ<tspan class="i">D</tspan><tspan dx="-10.8" dy="-9.0">ˆ</tspan><tspan dx="2.84" dy="9.0">=283 m)</tspan></text>
<line x1="167.7" y1="1122.6" x2="216.4" y2="1122.6" stroke="#be4ff5" stroke-width="4.4" stroke-linecap="round"/>
<text class="lg" x="235.2" y="1129.9" xml:space="preserve"><tspan class="b">+Both</tspan> (Δ<tspan class="i">L</tspan><tspan dx="-9.0" dy="-9.0">ˆ</tspan><tspan dx="1.04" dy="9.0">=3974 mi, </tspan>Δ<tspan class="i">N</tspan><tspan dx="-10.6" dy="-9.0">ˆ</tspan><tspan dx="2.64" dy="9.0">=383k, </tspan>Δ<tspan class="i">D</tspan><tspan dx="-10.8" dy="-9.0">ˆ</tspan><tspan dx="2.84" dy="9.0">=340 m)</tspan></text>
<rect x="806.2" y="1092.3" width="577.1" height="54.7" rx="4.5" ry="4.5" fill="#fff" stroke="#262626" stroke-width="2.4"/>
<line x1="815" y1="1122.6" x2="863.7" y2="1122.6" stroke="#0dbaf5" stroke-width="4.4" stroke-linecap="round"/>
<text class="lg" x="882.5" y="1129.9" xml:space="preserve"><tspan class="b">+Crosswalks</tspan> (Δ<tspan class="i">L</tspan><tspan dx="-9.0" dy="-9.0">ˆ</tspan><tspan dx="1.04" dy="9.0">=8 mi, </tspan>Δ<tspan class="i">N</tspan><tspan dx="-10.6" dy="-9.0">ˆ</tspan><tspan dx="2.64" dy="9.0">=11k, </tspan>Δ<tspan class="i">D</tspan><tspan dx="-10.8" dy="-9.0">ˆ</tspan><tspan dx="2.84" dy="9.0">=10 m)</tspan></text>
<rect x="1453.2" y="996.9" width="614.8" height="150.1" rx="4.5" ry="4.5" fill="#fff" stroke="#262626" stroke-width="2.4"/>
<line x1="1462" y1="1027.3" x2="1510.7" y2="1027.3" stroke="#5bbd12" stroke-width="4.4" stroke-linecap="round"/>
<text class="lg" x="1529.5" y="1034.6" xml:space="preserve"><tspan class="b">+Sidewalks</tspan> (Δ<tspan class="i">L</tspan><tspan dx="-9.0" dy="-9.0">ˆ</tspan><tspan dx="1.04" dy="9.0">=1839 mi, </tspan>Δ<tspan class="i">N</tspan><tspan dx="-10.6" dy="-9.0">ˆ</tspan><tspan dx="2.64" dy="9.0">=197k, </tspan>Δ<tspan class="i">D</tspan><tspan dx="-10.8" dy="-9.0">ˆ</tspan><tspan dx="2.84" dy="9.0">=18 m)</tspan></text>
<line x1="1462" y1="1074.95" x2="1510.7" y2="1074.95" stroke="#0dbaf5" stroke-width="4.4" stroke-linecap="round"/>
<text class="lg" x="1529.5" y="1082.25" xml:space="preserve"><tspan class="b">+Crosswalks</tspan> (Δ<tspan class="i">L</tspan><tspan dx="-9.0" dy="-9.0">ˆ</tspan><tspan dx="1.04" dy="9.0">=47 mi, </tspan>Δ<tspan class="i">N</tspan><tspan dx="-10.6" dy="-9.0">ˆ</tspan><tspan dx="2.64" dy="9.0">=1k, </tspan>Δ<tspan class="i">D</tspan><tspan dx="-10.8" dy="-9.0">ˆ</tspan><tspan dx="2.84" dy="9.0">=2 m)</tspan></text>
<line x1="1462" y1="1122.6" x2="1510.7" y2="1122.6" stroke="#be4ff5" stroke-width="4.4" stroke-linecap="round"/>
<text class="lg" x="1529.5" y="1129.9" xml:space="preserve"><tspan class="b">+Both</tspan> (Δ<tspan class="i">L</tspan><tspan dx="-9.0" dy="-9.0">ˆ</tspan><tspan dx="1.04" dy="9.0">=1890 mi, </tspan>Δ<tspan class="i">N</tspan><tspan dx="-10.6" dy="-9.0">ˆ</tspan><tspan dx="2.64" dy="9.0">=197k, </tspan>Δ<tspan class="i">D</tspan><tspan dx="-10.8" dy="-9.0">ˆ</tspan><tspan dx="2.84" dy="9.0">=78 m)</tspan></text>
</svg></body></html>
